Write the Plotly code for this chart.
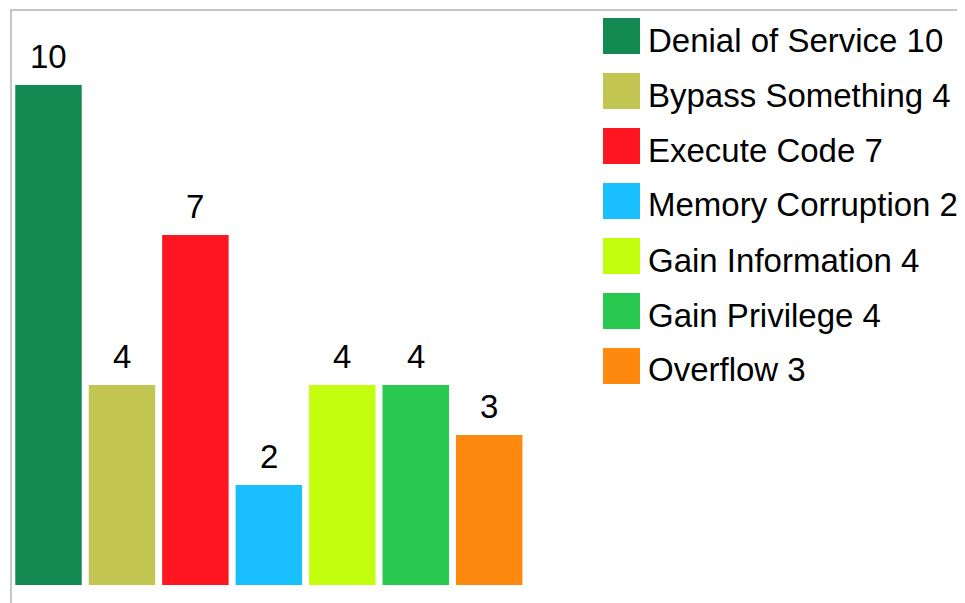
import plotly.graph_objects as go

categories = ["Denial of Service", "Bypass Something", "Execute Code",
              "Memory Corruption", "Gain Information", "Gain Privilege", "Overflow"]
values = [10, 4, 7, 2, 4, 4, 3]
colors = ["#138A52", "#C3C552", "#FE1621", "#19BFFE", "#C4FE0F", "#28C94E", "#FE890E"]

OFF = 8                     # page body margin of the html page
W, H = 965 - OFF, 603 - OFF
FONT = "Liberation Sans, Arial, Helvetica, sans-serif"


def px_x(p):  # reference-page pixel -> paper x
    return (p - OFF) / W


def px_y(p):  # reference-page pixel -> paper y
    return 1 - (p - OFF) / H


fig = go.Figure()
for i, (cat, v, c) in enumerate(zip(categories, values, colors)):
    fig.add_trace(go.Bar(
        x=[i], y=[v], name=f"{cat} {v}", width=0.905,
        marker=dict(color=c, line=dict(width=0)),
        showlegend=False, hoverinfo="name",
    ))

annotations = []
for i, v in enumerate(values):
    annotations.append(dict(
        x=i, y=v, xref="x", yref="y", text=str(v), showarrow=False,
        yanchor="bottom", xanchor="center", yshift=8,
        font=dict(family=FONT, size=33, color="#000000"),
    ))

shapes = []
leg_x0, leg_top, row_h, sw = 603, 18, 55, 37
for i, (cat, v, c) in enumerate(zip(categories, values, colors)):
    y0 = leg_top + i * row_h
    shapes.append(dict(
        type="rect", xref="paper", yref="paper",
        x0=px_x(leg_x0), x1=px_x(leg_x0 + sw),
        y0=px_y(y0 + 36), y1=px_y(y0),
        fillcolor=c, line=dict(width=0),
    ))
    annotations.append(dict(
        x=px_x(leg_x0 + 43), y=px_y(y0 + 22), xref="paper", yref="paper",
        text=f"{cat} {v}", showarrow=False, xanchor="left", yanchor="middle",
        font=dict(family=FONT, size=33, color="#000000"),
    ))

shapes.append(dict(type="line", xref="paper", yref="paper",
                   x0=px_x(10), x1=1, y0=px_y(10), y1=px_y(10),
                   line=dict(color="#C6C6C6", width=2)))
shapes.append(dict(type="line", xref="paper", yref="paper",
                   x0=px_x(11), x1=px_x(11), y0=0, y1=px_y(10),
                   line=dict(color="#C6C6C6", width=2)))

unit_px = 73.45
x0 = -(48.5 - OFF) / unit_px
y_unit = 50.0
y_lo = -(603 - 585) / y_unit

fig.update_layout(
    width=W, height=H,
    margin=dict(l=0, r=0, t=0, b=0),
    paper_bgcolor="white", plot_bgcolor="rgba(0,0,0,0)",
    barmode="overlay",
    xaxis=dict(range=[x0, x0 + W / unit_px], visible=False, fixedrange=True),
    yaxis=dict(range=[y_lo, y_lo + H / y_unit], visible=False, fixedrange=True),
    annotations=annotations, shapes=shapes,
    showlegend=False,
)

fig.write_html("out.html")
